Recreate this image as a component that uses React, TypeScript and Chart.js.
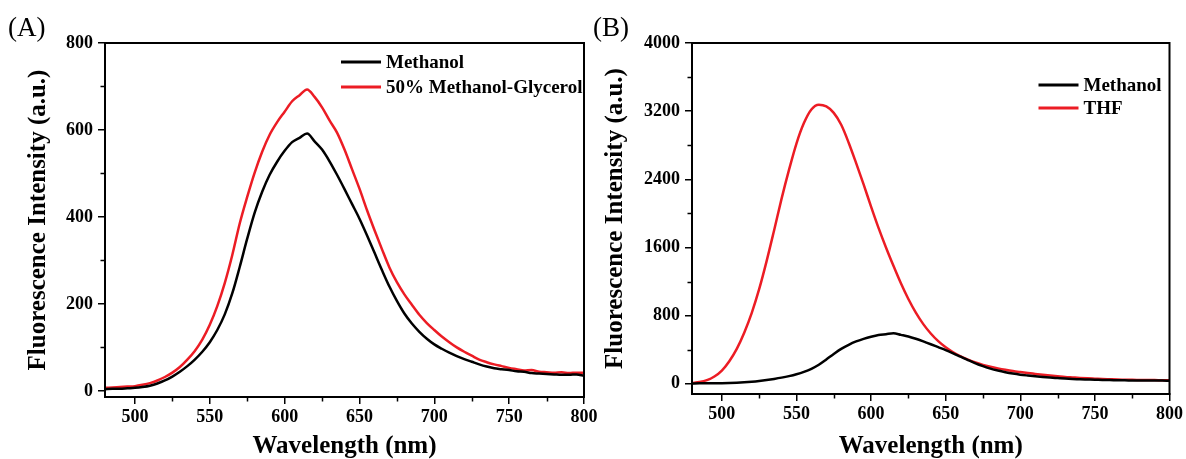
import React, { useEffect, useRef } from 'react';
import { Chart, registerables } from 'chart.js';

Chart.register(...registerables);

// ---------- data ----------
const wavelengths = [
  480, 485, 490, 495, 500, 505, 510, 515, 520, 525,
  530, 535, 540, 545, 550, 555, 560, 565, 570, 575,
  580, 585, 590, 595, 600, 605, 610, 615, 620, 625,
  630, 635, 640, 645, 650, 655, 660, 665, 670, 675,
  680, 685, 690, 695, 700, 705, 710, 715, 720, 725,
  730, 735, 740, 745, 750, 755, 760, 765, 770, 775,
  780, 785, 790, 795, 800,
];

const methanol = [
  4, 5, 5, 6, 7, 9, 12, 17, 24, 33,
  44, 57, 72, 90, 112, 140, 176, 224, 285, 350,
  410, 458, 497, 527, 552, 572, 582, 592, 574, 555,
  528, 497, 464, 430, 396, 358, 318, 278, 240, 207,
  178, 155, 136, 120, 107, 97, 88, 80, 73, 67,
  61, 56, 52, 50, 48, 45, 44, 41, 40, 39,
  38, 37, 37, 38, 35,
];

const methanolGlycerol = [
  7, 8, 9, 10, 11, 14, 18, 24, 32, 42,
  55, 72, 92, 118, 152, 195, 248, 312, 385, 446,
  502, 550, 589, 618, 642, 666, 680, 693, 676, 652,
  622, 594, 555, 510, 465, 416, 370, 326, 284, 250,
  222, 198, 175, 156, 140, 125, 112, 100, 90, 81,
  72, 66, 61, 57, 53, 50, 47, 48, 44, 43,
  42, 43, 41, 42, 42,
];

const thf = [
  10, 20, 42, 85, 155, 265, 410, 600, 830, 1110,
  1440, 1800, 2170, 2510, 2820, 3060, 3220, 3275, 3255, 3180,
  3040, 2830, 2590, 2340, 2080, 1830, 1600, 1385, 1180, 995,
  835, 700, 590, 500, 428, 370, 322, 283, 250, 222,
  200, 181, 164, 149, 137, 126, 116, 106, 97, 89,
  81, 75, 69, 64, 60, 56, 53, 50, 48, 46,
  45, 44, 43, 42, 41,
];

const xMajorTicks = [500, 550, 600, 650, 700, 750, 800];
const xMinorTicks = [525, 575, 625, 675, 725, 775];
const yMajorA = [0, 200, 400, 600, 800];
const yMinorA = [100, 300, 500, 700];
const yMajorB = [0, 800, 1600, 2400, 3200, 4000];
const yMinorB = [400, 1200, 2000, 2800, 3600];

const BLACK = '#000000';
const RED = '#ec1c24';
const FONT = "'Liberation Serif', 'Times New Roman', serif";

// ---------- decoration plugin (frame, minor ticks, legend, panel label) ----------
const decorPlugin = {
  id: 'decor',
  afterDraw(chart: any, _args: any, opts: any) {
    const { ctx, chartArea } = chart;
    const { left, right, top, bottom } = chartArea;
    const xs = chart.scales.x;
    const ys = chart.scales.y;
    ctx.save();
    ctx.strokeStyle = '#000';
    ctx.lineWidth = 2;
    ctx.strokeRect(left, top, right - left, bottom - top);

    ctx.lineWidth = 1.5;
    ctx.beginPath();
    (opts.xMinor || []).forEach((v: number) => {
      const px = Math.round(xs.getPixelForValue(v)) + 0.5;
      ctx.moveTo(px, bottom);
      ctx.lineTo(px, bottom + 4.5);
    });
    (opts.yMinor || []).forEach((v: number) => {
      const py = Math.round(ys.getPixelForValue(v)) + 0.5;
      ctx.moveTo(left, py);
      ctx.lineTo(left - 4.5, py);
    });
    ctx.stroke();

    // legend
    ctx.font = `bold 19px ${FONT}`;
    ctx.textBaseline = 'middle';
    ctx.textAlign = 'left';
    chart.data.datasets.forEach((ds: any, i: number) => {
      const y = top + opts.legendTop + i * opts.legendGap;
      const x0 = right - opts.legendRight;
      ctx.strokeStyle = ds.borderColor;
      ctx.lineWidth = 3;
      ctx.beginPath();
      ctx.moveTo(x0, y);
      ctx.lineTo(x0 + 40, y);
      ctx.stroke();
      ctx.fillStyle = '#000';
      ctx.fillText(ds.label, x0 + 45, y + 1);
    });

    // panel label
    ctx.font = `27px ${FONT}`;
    ctx.textBaseline = 'alphabetic';
    ctx.fillStyle = '#000';
    ctx.fillText(opts.panelLabel, opts.panelLabelX, 36);
    ctx.restore();
  },
};

type Spec = {
  datasets: { label: string; data: number[]; color: string }[];
  yMin: number;
  yMax: number;
  yMajor: number[];
  yMinor: number[];
  yAxisWidth: number;
  xAxisHeight: number;
  padRight: number;
  titlePad: number;
  legendRight: number;
  legendTop: number;
  legendGap: number;
  panelLabel: string;
  panelLabelX: number;
};

function makeConfig(spec: Spec): any {
  const tickFont = { family: FONT, size: 18, weight: 'bold' as const };
  const titleFont = { family: FONT, size: 25, weight: 'bold' as const, lineHeight: 1 };
  return {
    type: 'line',
    data: {
      datasets: spec.datasets.map((d) => ({
        label: d.label,
        data: wavelengths.map((w, i) => ({ x: w, y: d.data[i] })),
        borderColor: d.color,
        borderWidth: 2.5,
        pointRadius: 0,
        fill: false,
        cubicInterpolationMode: 'monotone',
      })),
    },
    options: {
      responsive: false,
      animation: false,
      devicePixelRatio: 1,
      layout: { padding: { left: 0, top: 43, right: spec.padRight, bottom: 0 } },
      plugins: {
        legend: { display: false },
        tooltip: { enabled: false },
        decor: {
          xMinor: xMinorTicks,
          yMinor: spec.yMinor,
          legendRight: spec.legendRight,
          legendTop: spec.legendTop,
          legendGap: spec.legendGap,
          panelLabel: spec.panelLabel,
          panelLabelX: spec.panelLabelX,
        },
      },
      scales: {
        x: {
          type: 'linear',
          min: 480,
          max: 800,
          afterBuildTicks: (s: any) => {
            s.ticks = xMajorTicks.map((v) => ({ value: v }));
          },
          afterFit: (s: any) => {
            s.height = spec.xAxisHeight;
          },
          ticks: {
            color: '#000',
            font: tickFont,
            padding: 3,
            maxRotation: 0,
            autoSkip: false,
            callback: (v: any) => String(v),
          },
          grid: { drawOnChartArea: false, drawTicks: true, tickLength: 7, color: '#000', lineWidth: 1.5 },
          border: { display: true, color: '#000', width: 2 },
          title: {
            display: true,
            text: 'Wavelength (nm)',
            color: '#000',
            font: titleFont,
            padding: { top: 0, bottom: 0 },
          },
        },
        y: {
          type: 'linear',
          min: spec.yMin,
          max: spec.yMax,
          afterBuildTicks: (s: any) => {
            s.ticks = spec.yMajor.map((v) => ({ value: v }));
          },
          afterFit: (s: any) => {
            s.width = spec.yAxisWidth;
          },
          ticks: {
            color: '#000',
            font: tickFont,
            padding: 5,
            autoSkip: false,
            callback: (v: any) => String(v),
          },
          grid: { drawOnChartArea: false, drawTicks: true, tickLength: 7, color: '#000', lineWidth: 1.5 },
          border: { display: true, color: '#000', width: 2 },
          title: {
            display: true,
            text: 'Fluorescence Intensity (a.u.)',
            color: '#000',
            font: titleFont,
            padding: { top: spec.titlePad, bottom: 0 },
          },
        },
      },
    },
    plugins: [decorPlugin],
  };
}

const specA: Spec = {
  datasets: [
    { label: 'Methanol', data: methanol, color: BLACK },
    { label: '50% Methanol-Glycerol', data: methanolGlycerol, color: RED },
  ],
  yMin: -14,
  yMax: 800,
  yMajor: yMajorA,
  yMinor: yMinorA,
  yAxisWidth: 105,
  xAxisHeight: 62,
  padRight: 26,
  titlePad: 26,
  legendRight: 243,
  legendTop: 19,
  legendGap: 25,
  panelLabel: '(A)',
  panelLabelX: 8,
};

const specB: Spec = {
  datasets: [
    { label: 'Methanol', data: methanol, color: BLACK },
    { label: 'THF', data: thf, color: RED },
  ],
  yMin: -120,
  yMax: 4000,
  yMajor: yMajorB,
  yMinor: yMinorB,
  yAxisWidth: 106,
  xAxisHeight: 65,
  padRight: 15,
  titlePad: 17,
  legendRight: 131,
  legendTop: 42,
  legendGap: 23,
  panelLabel: '(B)',
  panelLabelX: 7,
};

function Panel({ spec, left, width }: { spec: Spec; left: number; width: number }) {
  const ref = useRef<HTMLCanvasElement>(null);
  useEffect(() => {
    const chart = new Chart(ref.current as HTMLCanvasElement, makeConfig(spec));
    return () => chart.destroy();
  }, [spec]);
  return (
    <div style={{ position: 'absolute', left, top: 0, width, height: 459 }}>
      <canvas ref={ref} width={width} height={459} style={{ display: 'block' }} />
    </div>
  );
}

export default function App() {
  return (
    <div style={{ position: 'fixed', left: 0, top: 0, width: 1186, height: 459, background: '#fff', overflow: 'hidden' }}>
      <Panel spec={specA} left={0} width={610} />
      <Panel spec={specB} left={586} width={600} />
    </div>
  );
}
